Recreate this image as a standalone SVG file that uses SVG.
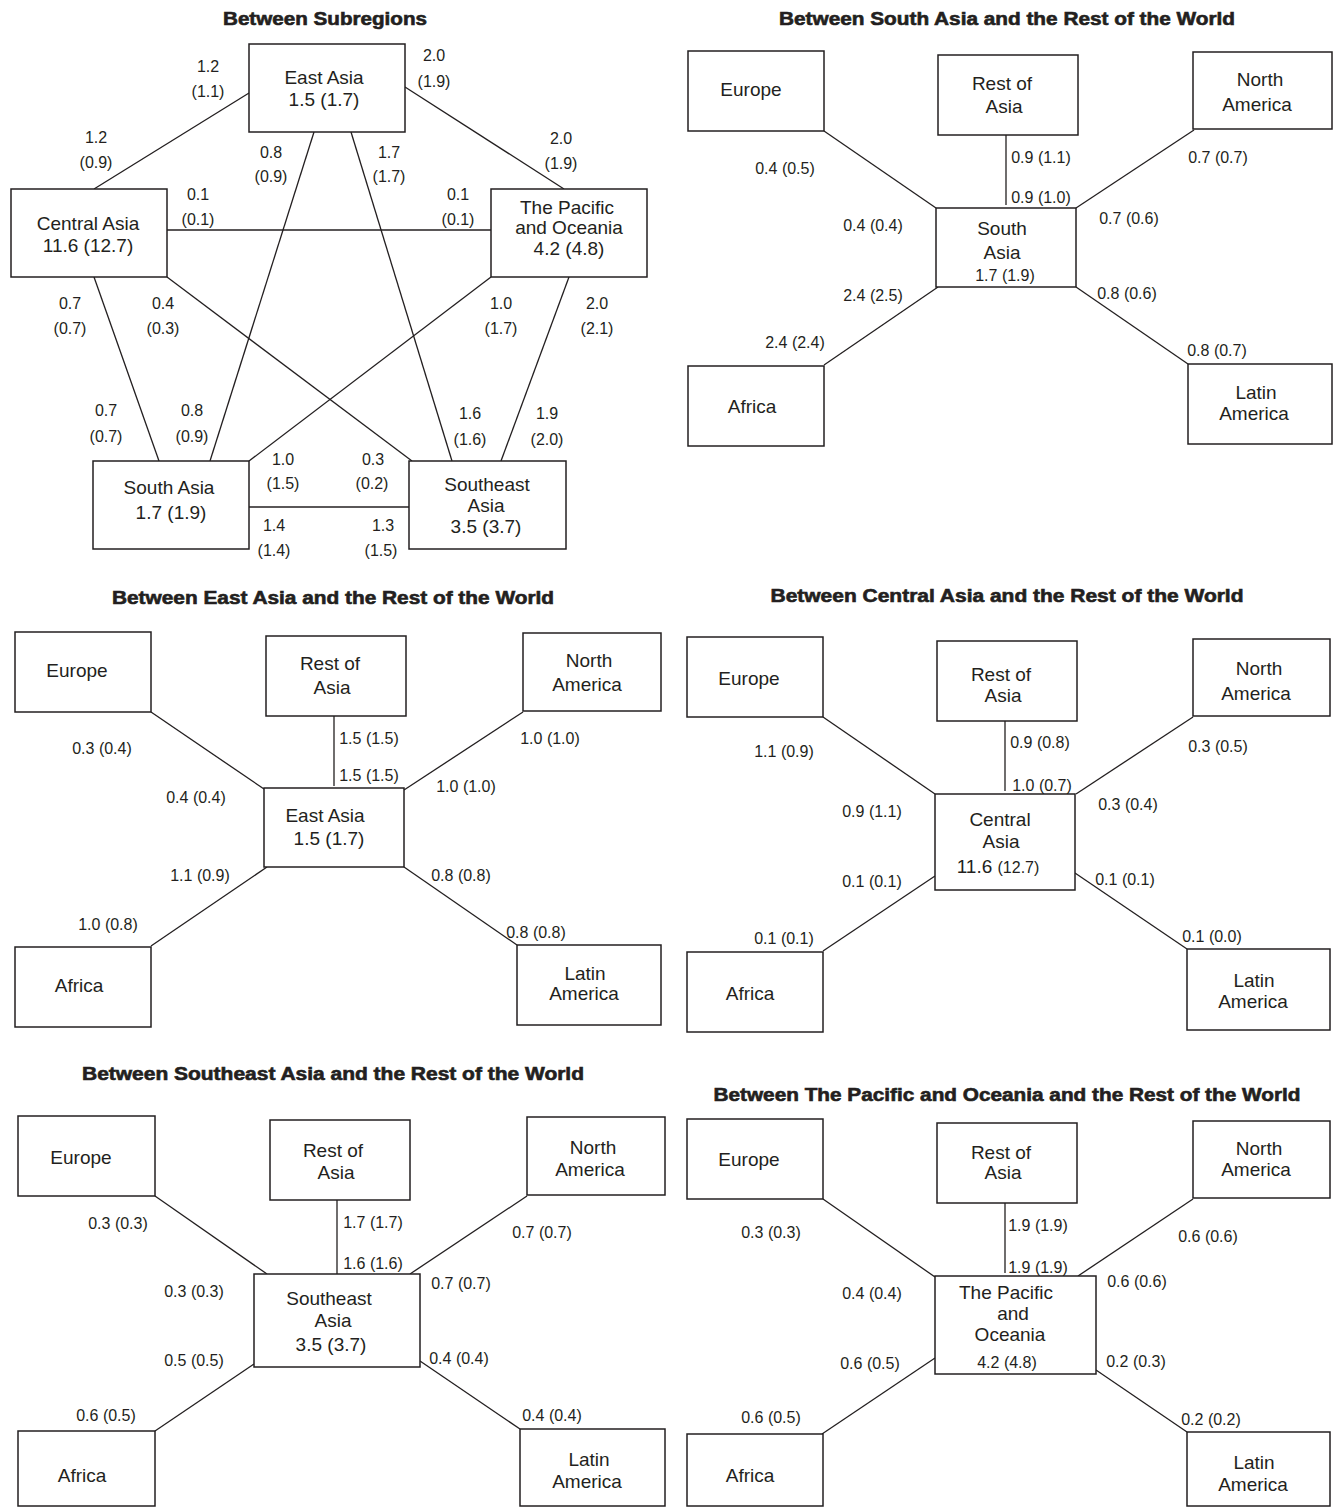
<svg xmlns="http://www.w3.org/2000/svg" width="1333" height="1508" viewBox="0 0 1333 1508">
<style>
text{font-family:"Liberation Sans",Arial,sans-serif;fill:#231f20;text-anchor:middle}
.t{font-size:18px;font-weight:900;stroke:#231f20;stroke-width:0.6}
.b{font-size:19px}
.s{font-size:16px}
rect{fill:#fff;stroke:#231f20;stroke-width:1.5}
line{stroke:#231f20;stroke-width:1.3}
</style>
<rect x="0" y="0" width="1333" height="1508" style="stroke:none"/>

<!-- Panel 1 -->
<g id="p1">
<text class="t" x="325" y="25" textLength="204" lengthAdjust="spacingAndGlyphs">Between Subregions</text>
<g id="p1-conn">
<line x1="249" y1="93" x2="94" y2="189"/>
<line x1="405" y1="87" x2="564" y2="189"/>
<line x1="167" y1="230" x2="491" y2="230"/>
<line x1="94" y1="277" x2="159" y2="461"/>
<line x1="167" y1="277" x2="412" y2="461"/>
<line x1="314" y1="132" x2="210" y2="461"/>
<line x1="351" y1="132" x2="452" y2="461"/>
<line x1="491" y1="277" x2="249" y2="461"/>
<line x1="569" y1="277" x2="501" y2="461"/>
<line x1="249" y1="507" x2="409" y2="507"/>
</g>
<g id="p1-ea"><rect x="249" y="44" width="156" height="88"/><text class="b" x="324" y="84">East Asia</text><text class="b" x="324" y="106">1.5 (1.7)</text></g>
<g id="p1-ca"><rect x="11" y="189" width="156" height="88"/><text class="b" x="88" y="230">Central Asia</text><text class="b" x="88" y="252">11.6 (12.7)</text></g>
<g id="p1-pac"><rect x="491" y="189" width="156" height="88"/><text class="b" x="567" y="214">The Pacific</text><text class="b" x="569" y="234">and Oceania</text><text class="b" x="569" y="255">4.2 (4.8)</text></g>
<g id="p1-sa"><rect x="93" y="461" width="156" height="88"/><text class="b" x="169" y="494">South Asia</text><text class="b" x="171" y="519">1.7 (1.9)</text></g>
<g id="p1-sea"><rect x="409" y="461" width="157" height="88"/><text class="b" x="487" y="491">Southeast</text><text class="b" x="486" y="512">Asia</text><text class="b" x="486" y="533">3.5 (3.7)</text></g>
<g id="p1-labels" class="s">
<text class="s" x="208" y="72">1.2</text><text class="s" x="208" y="97">(1.1)</text>
<text class="s" x="434" y="61">2.0</text><text class="s" x="434" y="87">(1.9)</text>
<text class="s" x="96" y="143">1.2</text><text class="s" x="96" y="168">(0.9)</text>
<text class="s" x="271" y="158">0.8</text><text class="s" x="271" y="182">(0.9)</text>
<text class="s" x="389" y="158">1.7</text><text class="s" x="389" y="182">(1.7)</text>
<text class="s" x="561" y="144">2.0</text><text class="s" x="561" y="169">(1.9)</text>
<text class="s" x="198" y="200">0.1</text><text class="s" x="198" y="225">(0.1)</text>
<text class="s" x="458" y="200">0.1</text><text class="s" x="458" y="225">(0.1)</text>
<text class="s" x="70" y="309">0.7</text><text class="s" x="70" y="334">(0.7)</text>
<text class="s" x="163" y="309">0.4</text><text class="s" x="163" y="334">(0.3)</text>
<text class="s" x="501" y="309">1.0</text><text class="s" x="501" y="334">(1.7)</text>
<text class="s" x="597" y="309">2.0</text><text class="s" x="597" y="334">(2.1)</text>
<text class="s" x="106" y="416">0.7</text><text class="s" x="106" y="442">(0.7)</text>
<text class="s" x="192" y="416">0.8</text><text class="s" x="192" y="442">(0.9)</text>
<text class="s" x="470" y="419">1.6</text><text class="s" x="470" y="445">(1.6)</text>
<text class="s" x="547" y="419">1.9</text><text class="s" x="547" y="445">(2.0)</text>
<text class="s" x="283" y="465">1.0</text><text class="s" x="283" y="489">(1.5)</text>
<text class="s" x="373" y="465">0.3</text><text class="s" x="372" y="489">(0.2)</text>
<text class="s" x="274" y="531">1.4</text><text class="s" x="274" y="556">(1.4)</text>
<text class="s" x="383" y="531">1.3</text><text class="s" x="381" y="556">(1.5)</text>
</g>
</g>

<!-- Panel 2: South Asia -->
<g id="p2">
<text class="t" x="1007" y="25" textLength="456" lengthAdjust="spacingAndGlyphs">Between South Asia and the Rest of the World</text>
<g id="p2-conn">
<line x1="824" y1="131" x2="936" y2="208"/>
<line x1="1006" y1="135" x2="1006" y2="205"/>
<line x1="1194" y1="130" x2="1076" y2="208"/>
<line x1="824" y1="365" x2="938" y2="287"/>
<line x1="1076" y1="287" x2="1188" y2="364"/>
</g>
<g id="p2-eu"><rect x="688" y="51" width="136" height="80"/><text class="b" x="751" y="96">Europe</text></g>
<g id="p2-roa"><rect x="938" y="55" width="140" height="80"/><text class="b" x="1002" y="90">Rest of</text><text class="b" x="1004" y="113">Asia</text></g>
<g id="p2-na"><rect x="1193" y="52" width="139" height="77"/><text class="b" x="1260" y="86">North</text><text class="b" x="1257" y="111">America</text></g>
<g id="p2-c"><rect x="936" y="208" width="140" height="79"/><text class="b" x="1002" y="235">South</text><text class="b" x="1002" y="259">Asia</text><text class="s" x="1005" y="281">1.7 (1.9)</text></g>
<g id="p2-af"><rect x="688" y="366" width="136" height="80"/><text class="b" x="752" y="413">Africa</text></g>
<g id="p2-la"><rect x="1188" y="364" width="144" height="80"/><text class="b" x="1256" y="399">Latin</text><text class="b" x="1254" y="420">America</text></g>
<g id="p2-labels">
<text class="s" x="785" y="174">0.4 (0.5)</text>
<text class="s" x="1041" y="163">0.9 (1.1)</text>
<text class="s" x="1218" y="163">0.7 (0.7)</text>
<text class="s" x="1041" y="203">0.9 (1.0)</text>
<text class="s" x="873" y="231">0.4 (0.4)</text>
<text class="s" x="1129" y="224">0.7 (0.6)</text>
<text class="s" x="873" y="301">2.4 (2.5)</text>
<text class="s" x="1127" y="299">0.8 (0.6)</text>
<text class="s" x="795" y="348">2.4 (2.4)</text>
<text class="s" x="1217" y="356">0.8 (0.7)</text>
</g>
</g>

<!-- Panel 3: East Asia -->
<g id="p3">
<text class="t" x="333" y="604" textLength="442" lengthAdjust="spacingAndGlyphs">Between East Asia and the Rest of the World</text>
<g id="p3-conn">
<line x1="151" y1="712" x2="264" y2="789"/>
<line x1="334" y1="716" x2="334" y2="786"/>
<line x1="523" y1="712" x2="404" y2="790"/>
<line x1="151" y1="946" x2="267" y2="867"/>
<line x1="404" y1="867" x2="517" y2="945"/>
</g>
<g id="p3-eu"><rect x="15" y="632" width="136" height="80"/><text class="b" x="77" y="677">Europe</text></g>
<g id="p3-roa"><rect x="266" y="636" width="140" height="80"/><text class="b" x="330" y="670">Rest of</text><text class="b" x="332" y="694">Asia</text></g>
<g id="p3-na"><rect x="523" y="633" width="138" height="78"/><text class="b" x="589" y="667">North</text><text class="b" x="587" y="691">America</text></g>
<g id="p3-c"><rect x="264" y="788" width="140" height="79"/><text class="b" x="325" y="822">East Asia</text><text class="b" x="329" y="845">1.5 (1.7)</text></g>
<g id="p3-af"><rect x="15" y="947" width="136" height="80"/><text class="b" x="79" y="992">Africa</text></g>
<g id="p3-la"><rect x="517" y="945" width="144" height="80"/><text class="b" x="585" y="980">Latin</text><text class="b" x="584" y="1000">America</text></g>
<g id="p3-labels">
<text class="s" x="102" y="754">0.3 (0.4)</text>
<text class="s" x="369" y="744">1.5 (1.5)</text>
<text class="s" x="550" y="744">1.0 (1.0)</text>
<text class="s" x="369" y="781">1.5 (1.5)</text>
<text class="s" x="196" y="803">0.4 (0.4)</text>
<text class="s" x="466" y="792">1.0 (1.0)</text>
<text class="s" x="200" y="881">1.1 (0.9)</text>
<text class="s" x="461" y="881">0.8 (0.8)</text>
<text class="s" x="108" y="930">1.0 (0.8)</text>
<text class="s" x="536" y="938">0.8 (0.8)</text>
</g>
</g>

<!-- Panel 4: Central Asia -->
<g id="p4">
<text class="t" x="1007" y="602" textLength="473" lengthAdjust="spacingAndGlyphs">Between Central Asia and the Rest of the World</text>
<g id="p4-conn">
<line x1="823" y1="717" x2="935" y2="794"/>
<line x1="1005" y1="721" x2="1005" y2="791"/>
<line x1="1193" y1="717" x2="1076" y2="794"/>
<line x1="823" y1="951" x2="935" y2="876"/>
<line x1="1075" y1="873" x2="1187" y2="949"/>
</g>
<g id="p4-eu"><rect x="687" y="637" width="136" height="80"/><text class="b" x="749" y="685">Europe</text></g>
<g id="p4-roa"><rect x="937" y="641" width="140" height="80"/><text class="b" x="1001" y="681">Rest of</text><text class="b" x="1003" y="702">Asia</text></g>
<g id="p4-na"><rect x="1193" y="639" width="137" height="77"/><text class="b" x="1259" y="675">North</text><text class="b" x="1256" y="700">America</text></g>
<g id="p4-c"><rect x="935" y="794" width="140" height="96"/><text class="b" x="1000" y="826">Central</text><text class="b" x="1001" y="848">Asia</text><text class="b" x="998" y="873">11.6 <tspan style="font-size:16px">(12.7)</tspan></text></g>
<g id="p4-af"><rect x="687" y="952" width="136" height="80"/><text class="b" x="750" y="1000">Africa</text></g>
<g id="p4-la"><rect x="1187" y="949" width="143" height="81"/><text class="b" x="1254" y="987">Latin</text><text class="b" x="1253" y="1008">America</text></g>
<g id="p4-labels">
<text class="s" x="784" y="757">1.1 (0.9)</text>
<text class="s" x="1040" y="748">0.9 (0.8)</text>
<text class="s" x="1218" y="752">0.3 (0.5)</text>
<text class="s" x="1042" y="791">1.0 (0.7)</text>
<text class="s" x="872" y="817">0.9 (1.1)</text>
<text class="s" x="1128" y="810">0.3 (0.4)</text>
<text class="s" x="872" y="887">0.1 (0.1)</text>
<text class="s" x="1125" y="885">0.1 (0.1)</text>
<text class="s" x="784" y="944">0.1 (0.1)</text>
<text class="s" x="1212" y="942">0.1 (0.0)</text>
</g>
</g>

<!-- Panel 5: Southeast Asia -->
<g id="p5">
<text class="t" x="333" y="1080" textLength="502" lengthAdjust="spacingAndGlyphs">Between Southeast Asia and the Rest of the World</text>
<g id="p5-conn">
<line x1="155" y1="1196" x2="267" y2="1274"/>
<line x1="337" y1="1200" x2="337" y2="1274"/>
<line x1="527" y1="1196" x2="410" y2="1274"/>
<line x1="155" y1="1431" x2="254" y2="1364"/>
<line x1="420" y1="1361" x2="520" y2="1429"/>
</g>
<g id="p5-eu"><rect x="18" y="1116" width="137" height="80"/><text class="b" x="81" y="1164">Europe</text></g>
<g id="p5-roa"><rect x="270" y="1120" width="140" height="80"/><text class="b" x="333" y="1157">Rest of</text><text class="b" x="336" y="1179">Asia</text></g>
<g id="p5-na"><rect x="527" y="1117" width="138" height="78"/><text class="b" x="593" y="1154">North</text><text class="b" x="590" y="1176">America</text></g>
<g id="p5-c"><rect x="254" y="1274" width="166" height="93"/><text class="b" x="329" y="1305">Southeast</text><text class="b" x="333" y="1327">Asia</text><text class="b" x="331" y="1351">3.5 (3.7)</text></g>
<g id="p5-af"><rect x="18" y="1431" width="137" height="75"/><text class="b" x="82" y="1482">Africa</text></g>
<g id="p5-la"><rect x="520" y="1429" width="145" height="77"/><text class="b" x="589" y="1466">Latin</text><text class="b" x="587" y="1488">America</text></g>
<g id="p5-labels">
<text class="s" x="118" y="1229">0.3 (0.3)</text>
<text class="s" x="373" y="1228">1.7 (1.7)</text>
<text class="s" x="542" y="1238">0.7 (0.7)</text>
<text class="s" x="373" y="1269">1.6 (1.6)</text>
<text class="s" x="194" y="1297">0.3 (0.3)</text>
<text class="s" x="461" y="1289">0.7 (0.7)</text>
<text class="s" x="194" y="1366">0.5 (0.5)</text>
<text class="s" x="459" y="1364">0.4 (0.4)</text>
<text class="s" x="106" y="1421">0.6 (0.5)</text>
<text class="s" x="552" y="1421">0.4 (0.4)</text>
</g>
</g>

<!-- Panel 6: Pacific -->
<g id="p6">
<text class="t" x="1007" y="1101" textLength="587" lengthAdjust="spacingAndGlyphs">Between The Pacific and Oceania and the Rest of the World</text>
<g id="p6-conn">
<line x1="823" y1="1199" x2="935" y2="1277"/>
<line x1="1005" y1="1203" x2="1005" y2="1273"/>
<line x1="1193" y1="1199" x2="1078" y2="1276"/>
<line x1="822" y1="1434" x2="935" y2="1358"/>
<line x1="1096" y1="1370" x2="1187" y2="1432"/>
</g>
<g id="p6-eu"><rect x="687" y="1119" width="136" height="80"/><text class="b" x="749" y="1166">Europe</text></g>
<g id="p6-roa"><rect x="937" y="1123" width="140" height="80"/><text class="b" x="1001" y="1159">Rest of</text><text class="b" x="1003" y="1179">Asia</text></g>
<g id="p6-na"><rect x="1193" y="1121" width="137" height="77"/><text class="b" x="1259" y="1155">North</text><text class="b" x="1256" y="1176">America</text></g>
<g id="p6-c"><rect x="935" y="1276" width="161" height="98"/><text class="b" x="1006" y="1299">The Pacific</text><text class="b" x="1013" y="1320">and</text><text class="b" x="1010" y="1341">Oceania</text><text class="s" x="1007" y="1368">4.2 (4.8)</text></g>
<g id="p6-af"><rect x="687" y="1434" width="136" height="72"/><text class="b" x="750" y="1482">Africa</text></g>
<g id="p6-la"><rect x="1187" y="1432" width="143" height="74"/><text class="b" x="1254" y="1469">Latin</text><text class="b" x="1253" y="1491">America</text></g>
<g id="p6-labels">
<text class="s" x="771" y="1238">0.3 (0.3)</text>
<text class="s" x="1038" y="1231">1.9 (1.9)</text>
<text class="s" x="1208" y="1242">0.6 (0.6)</text>
<text class="s" x="1038" y="1273">1.9 (1.9)</text>
<text class="s" x="872" y="1299">0.4 (0.4)</text>
<text class="s" x="1137" y="1287">0.6 (0.6)</text>
<text class="s" x="870" y="1369">0.6 (0.5)</text>
<text class="s" x="1136" y="1367">0.2 (0.3)</text>
<text class="s" x="771" y="1423">0.6 (0.5)</text>
<text class="s" x="1211" y="1425">0.2 (0.2)</text>
</g>
</g>
</svg>
